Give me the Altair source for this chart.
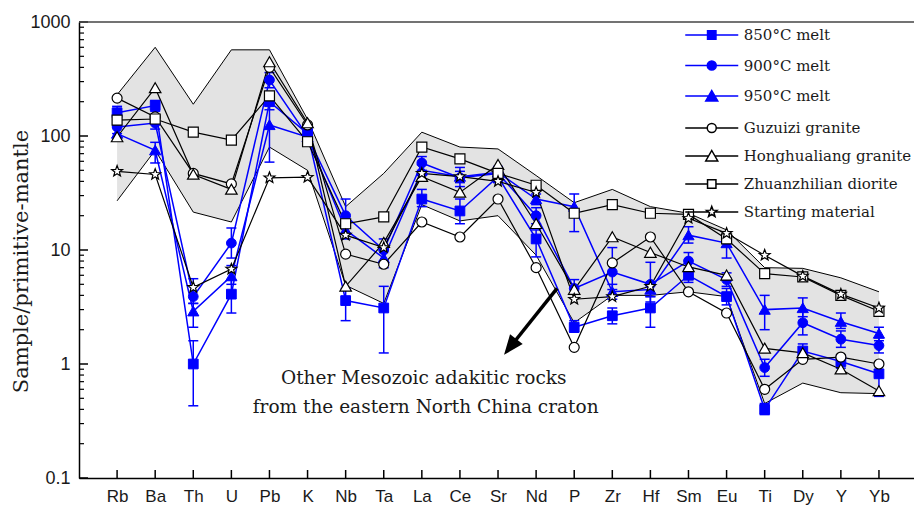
import altair as alt
import pandas as pd

elements = ["Rb", "Ba", "Th", "U", "Pb", "K", "Nb", "Ta", "La", "Ce", "Sr",
            "Nd", "P", "Zr", "Hf", "Sm", "Eu", "Ti", "Dy", "Y", "Yb"]

melt_names = ["850°C melt", "900°C melt", "950°C melt"]
rock_names = ["Guzuizi granite", "Honghualiang granite", "Zhuanzhilian diorite", "Starting material"]

melt_850 = [160, 185, 1.0, 4.1, 200, 105, 3.6, 3.1, 28, 22, 44, 12.5, 2.1, 2.65, 3.1, 6.0, 3.9, 0.4, 1.3, 1.05, 0.82]
melt_850_lo = [140, 165, 0.43, 2.8, 170, 95, 2.4, 1.25, 24, 17, 39, 8.7, 1.9, 2.25, 2.1, 5.2, 3.3, 0.36, 1.15, 0.92, 0.52]
melt_850_hi = [182, 205, 1.6, 5.5, 235, 116, 4.6, 4.8, 34, 28, 50, 15, 2.4, 3.1, 3.9, 6.9, 4.6, 0.45, 1.5, 1.2, 1.0]

melt_900 = [120, 130, 3.9, 11.5, 310, 100, 20, 10, 58, 43, 47, 20, 4.6, 6.4, 5.0, 8.0, 5.5, 0.93, 2.3, 1.65, 1.45]
melt_900_lo = [105, 115, 3.4, 8.5, 265, 90, 14, 8, 50, 36, 42, 17, 4.2, 4.5, 3.5, 6.7, 4.8, 0.78, 1.8, 1.4, 1.25]
melt_900_hi = [137, 145, 5.6, 15.6, 360, 111, 28, 12.5, 66, 53, 53, 23.5, 5.5, 10.5, 7.8, 9.5, 6.3, 1.1, 2.9, 1.95, 1.7]

melt_950 = [105, 75, 2.9, 5.9, 125, 98, 15, 8.5, 50, 44, 48, 28, 24, 4.3, 4.5, 13.5, 11.5, 3.0, 3.1, 2.35, 1.85]
melt_950_lo = [92, 58, 2.1, 5.0, 59, 88, 12.5, 7, 45, 39, 43, 25, 14.5, 3.7, 3.9, 11.5, 8.5, 2.0, 2.6, 2.05, 1.6]
melt_950_hi = [120, 88, 3.4, 7.3, 210, 110, 18, 10, 56, 49, 54, 31, 31, 5.0, 5.2, 16, 13.5, 4.0, 3.8, 2.8, 2.1]

guzuizi = [215, 147, 47, 38, 400, 125, 9.2, 7.5, 17.6, 13, 28, 7.0, 1.4, 7.7, 13, 4.3, 2.8, 0.6, 1.1, 1.15, 1.0]
honghualiang = [98, 264, 46, 34, 446, 130, 4.8, 11.6, 44, 32, 56, 17, 4.5, 13, 9.5, 7.1, 6.0, 1.37, 1.25, 0.9, 0.58]
zhuanzhilian = [138, 141, 108, 92, 225, 89, 17, 19.5, 80, 63, 47, 37, 21, 25, 21, 20.5, 12.5, 6.2, 5.8, 4.0, 2.9]
starting = [49, 46, 4.7, 6.8, 43, 43.5, 13.5, 10.5, 47, 44, 40, 32, 3.7, 3.9, 4.8, 19, 14, 9.0, 5.9, 4.1, 3.1]

band_upper = [230, 600, 190, 570, 570, 140, 24, 47, 108, 80, 77, 45, 26, 34, 24, 21, 15, 7.0, 6.9, 5.7, 4.3]
band_lower = [27, 75, 21.5, 17.6, 80, 50, 4.9, 3.4, 25, 18, 20, 9, 2.3, 4.0, 4.0, 4.3, 3.9, 0.45, 0.68, 0.56, 0.55]

note_lines = ["Other Mesozoic adakitic rocks", "from the eastern North China craton"]
note_x = [8.05, 8.1]
note_y = [0.75, 0.42]

arrow_x = [11.55, 10.32]
arrow_y = [4.6, 1.41]

y_major = [0.1, 1, 10, 100, 1000]
y_minor = [m * 10 ** k for k in range(-1, 3) for m in range(2, 10)]

BLUE = "#0000ff"
W, H = 835, 456
SERIF = "DejaVu Serif"
SANS = "Liberation Sans"
TXT = "#1a1a1a"

idx = list(range(len(elements)))
melts = {melt_names[0]: (melt_850, melt_850_lo, melt_850_hi),
         melt_names[1]: (melt_900, melt_900_lo, melt_900_hi),
         melt_names[2]: (melt_950, melt_950_lo, melt_950_hi)}
rocks = {rock_names[0]: guzuizi, rock_names[1]: honghualiang,
         rock_names[2]: zhuanzhilian, rock_names[3]: starting}

blue_rows, black_rows = [], []
for name, (v, lo, hi) in melts.items():
    for i in idx:
        blue_rows.append({"idx": i, "value": v[i], "lo": lo[i], "hi": hi[i], "series": name})
for name, v in rocks.items():
    for i in idx:
        black_rows.append({"idx": i, "value": v[i], "series": name})
blue_df = pd.DataFrame(blue_rows)
black_df = pd.DataFrame(black_rows)
band_df = pd.DataFrame({"idx": idx, "upper": band_upper, "lower": band_lower})

xs = alt.Scale(domain=[-1, 20.92], nice=False, zero=False)
ys = alt.Scale(type="log", domain=[0.1, 1000], nice=False)

label_expr = "[" + ",".join("'%s'" % e for e in elements) + "][datum.value]"
xaxis = alt.Axis(values=idx, labelExpr=label_expr, ticks=False, grid=False,
                 domainColor="black", domainWidth=1.5, labelFont=SANS, labelFontSize=17,
                 labelColor=TXT, labelPadding=10, labelFlush=False, title=None)
yaxis = alt.Axis(values=y_major, format="~g", ticks=False, grid=False,
                 domainColor="black", domainWidth=1.5, labelFont=SANS, labelFontSize=18,
                 labelColor=TXT, labelPadding=9, labelFlush=False,
                 title="Sample/primitive-mantle", titleFont=SERIF, titleFontSize=21,
                 titleFontWeight="normal", titleColor=TXT, titleX=-58, titleY=239,
                 titleAngle=270, titleAlign="center", titleBaseline="middle")


def X(f):
    return alt.X(f, type="quantitative", scale=xs, axis=xaxis)


def Y(f):
    return alt.Y(f, type="quantitative", scale=ys, axis=yaxis)


band = alt.Chart(band_df).mark_area(color="#e3e3e3", opacity=1).encode(
    x=X("idx"), y=Y("upper"), y2="lower")
band_up = alt.Chart(band_df).mark_line(color="black", strokeWidth=1).encode(x=X("idx"), y=Y("upper"))
band_lo = alt.Chart(band_df).mark_line(color="black", strokeWidth=1).encode(x=X("idx"), y=Y("lower"))

black_lines = alt.Chart(black_df).mark_line(color="black", strokeWidth=1.2).encode(
    x=X("idx"), y=Y("value"), detail="series:N")
blue_lines = alt.Chart(blue_df).mark_line(color=BLUE, strokeWidth=1.5).encode(
    x=X("idx"), y=Y("value"), detail="series:N")

err_rule = alt.Chart(blue_df).mark_rule(color=BLUE, strokeWidth=1.5).encode(
    x=X("idx"), y=Y("lo"), y2="hi")
err_lo = alt.Chart(blue_df).mark_tick(color=BLUE, orient="horizontal", size=10, thickness=1.5, opacity=1).encode(
    x=X("idx"), y=Y("lo"))
err_hi = alt.Chart(blue_df).mark_tick(color=BLUE, orient="horizontal", size=10, thickness=1.5, opacity=1).encode(
    x=X("idx"), y=Y("hi"))

STAR = ("M0,-1.15L0.284,-0.391L1.094,-0.355L0.459,0.15L0.676,0.93L0,0.483L-0.676,0.93"
        "L-0.459,0.15L-1.094,-0.355L-0.284,-0.391Z")
TRI = "M0,-1.05L1.15,0.95L-1.15,0.95Z"

blue_pts = alt.Chart(blue_df).mark_point(filled=True, fill=BLUE, stroke=BLUE, strokeWidth=1,
                                         size=95, opacity=1).encode(
    x=X("idx"), y=Y("value"),
    shape=alt.Shape("series:N", scale=alt.Scale(domain=melt_names, range=["square", "circle", TRI]),
                    legend=None))
black_pts = alt.Chart(black_df).mark_point(filled=True, fill="white", stroke="black", strokeWidth=1.2,
                                           size=100, opacity=1).encode(
    x=X("idx"), y=Y("value"),
    shape=alt.Shape("series:N", scale=alt.Scale(domain=rock_names, range=["circle", TRI, "square", STAR]),
                    legend=None))

L_SQ = "M-2.65,0H-0.42M0.42,0H2.65M-0.42,-0.42H0.42V0.42H-0.42Z"
L_CI = "M-2.65,0H-0.45M0.45,0H2.65M0.45,0A0.45,0.45,0,1,1,-0.45,0A0.45,0.45,0,1,1,0.45,0Z"
L_TR = "M-2.65,0H-0.31M0.31,0H2.65M0,-0.55L0.6,0.5L-0.6,0.5Z"
L_ST = ("M-2.65,0H-0.31M0.31,0H2.65M0,-0.55L0.136,-0.187L0.523,-0.17L0.219,0.072L0.323,0.445L0,0.231"
        "L-0.323,0.445L-0.219,0.072L-0.523,-0.17L-0.136,-0.187Z")


def make_legend(y0, row_pad):
    return alt.Legend(orient="none", legendX=621.75, legendY=y0, title=None, labelFont=SERIF,
                      labelFontSize=15, labelColor=TXT, symbolSize=400, symbolStrokeWidth=1.5,
                      labelOffset=21, rowPadding=row_pad, padding=0, labelLimit=400)


melt_leg_df = pd.DataFrame({"series": melt_names, "idx": [-5] * 3, "value": [1] * 3})
rock_leg_df = pd.DataFrame({"series": rock_names, "idx": [-5] * 4, "value": [1] * 4})

melt_leg = alt.Chart(melt_leg_df).mark_point(filled=True, fill=BLUE, stroke=BLUE, strokeWidth=1.5,
                                             clip=True, size=400, opacity=1).encode(
    x=X("idx"), y=Y("value"),
    shape=alt.Shape("series:N", scale=alt.Scale(domain=melt_names, range=[L_SQ, L_CI, L_TR]),
                    legend=make_legend(2, 11.5)))
rock_leg = alt.Chart(rock_leg_df).mark_point(filled=True, fill="white", stroke="black", strokeWidth=1.5,
                                             clip=True, size=400, opacity=1).encode(
    x=X("idx"), y=Y("value"),
    shape=alt.Shape("series:N", scale=alt.Scale(domain=rock_names, range=[L_CI, L_TR, L_SQ, L_ST]),
                    legend=make_legend(95, 9)))

xt = alt.Chart(pd.DataFrame({"idx": idx})).mark_rule(color="black", strokeWidth=1.5).encode(
    x=X("idx"), y=alt.value(H), y2=alt.value(H - 8))
yt_major = alt.Chart(pd.DataFrame({"v": y_major})).mark_rule(color="black", strokeWidth=1.5).encode(
    y=Y("v"), x=alt.value(0), x2=alt.value(9))
yt_minor = alt.Chart(pd.DataFrame({"v": y_minor})).mark_rule(color="black", strokeWidth=1.2).encode(
    y=Y("v"), x=alt.value(0), x2=alt.value(5))
top_frame = alt.Chart(pd.DataFrame({"v": [0]})).mark_rule(color="#444444", strokeWidth=1.5).encode(
    x=alt.value(0), x2=alt.value(W), y=alt.value(0))

note = alt.Chart(pd.DataFrame({"idx": note_x, "value": note_y, "t": note_lines})).mark_text(
    font=SERIF, fontSize=18.5, color=TXT, align="center", baseline="middle").encode(
    x=X("idx"), y=Y("value"), text="t:N")

arrow_df = pd.DataFrame({"idx": arrow_x, "value": arrow_y})
arrow_line = alt.Chart(arrow_df).mark_line(color="black", strokeWidth=3.5).encode(x=X("idx"), y=Y("value"))
ARROWHEAD = "M0,-1L0.8,1L-0.8,1Z"
arrow_head = alt.Chart(arrow_df.iloc[[1]]).mark_point(shape=ARROWHEAD, angle=218, size=400, filled=True,
                                                      color="black", opacity=1).encode(
    x=X("idx"), y=Y("value"))

chart = alt.layer(
    band, band_up, band_lo, blue_lines, err_rule, err_lo, err_hi, black_lines,
    blue_pts, black_pts, melt_leg, rock_leg, xt, yt_major, yt_minor, top_frame,
    note, arrow_line, arrow_head
).resolve_scale(shape="independent").properties(
    width=W, height=H,
    autosize=alt.AutoSizeParams(type="none"),
    padding={"left": 79, "top": 22, "right": 0, "bottom": 29},
    background="white",
).configure_view(stroke=None)

chart.save("out.html", embed_options={"renderer": "svg", "actions": False})
